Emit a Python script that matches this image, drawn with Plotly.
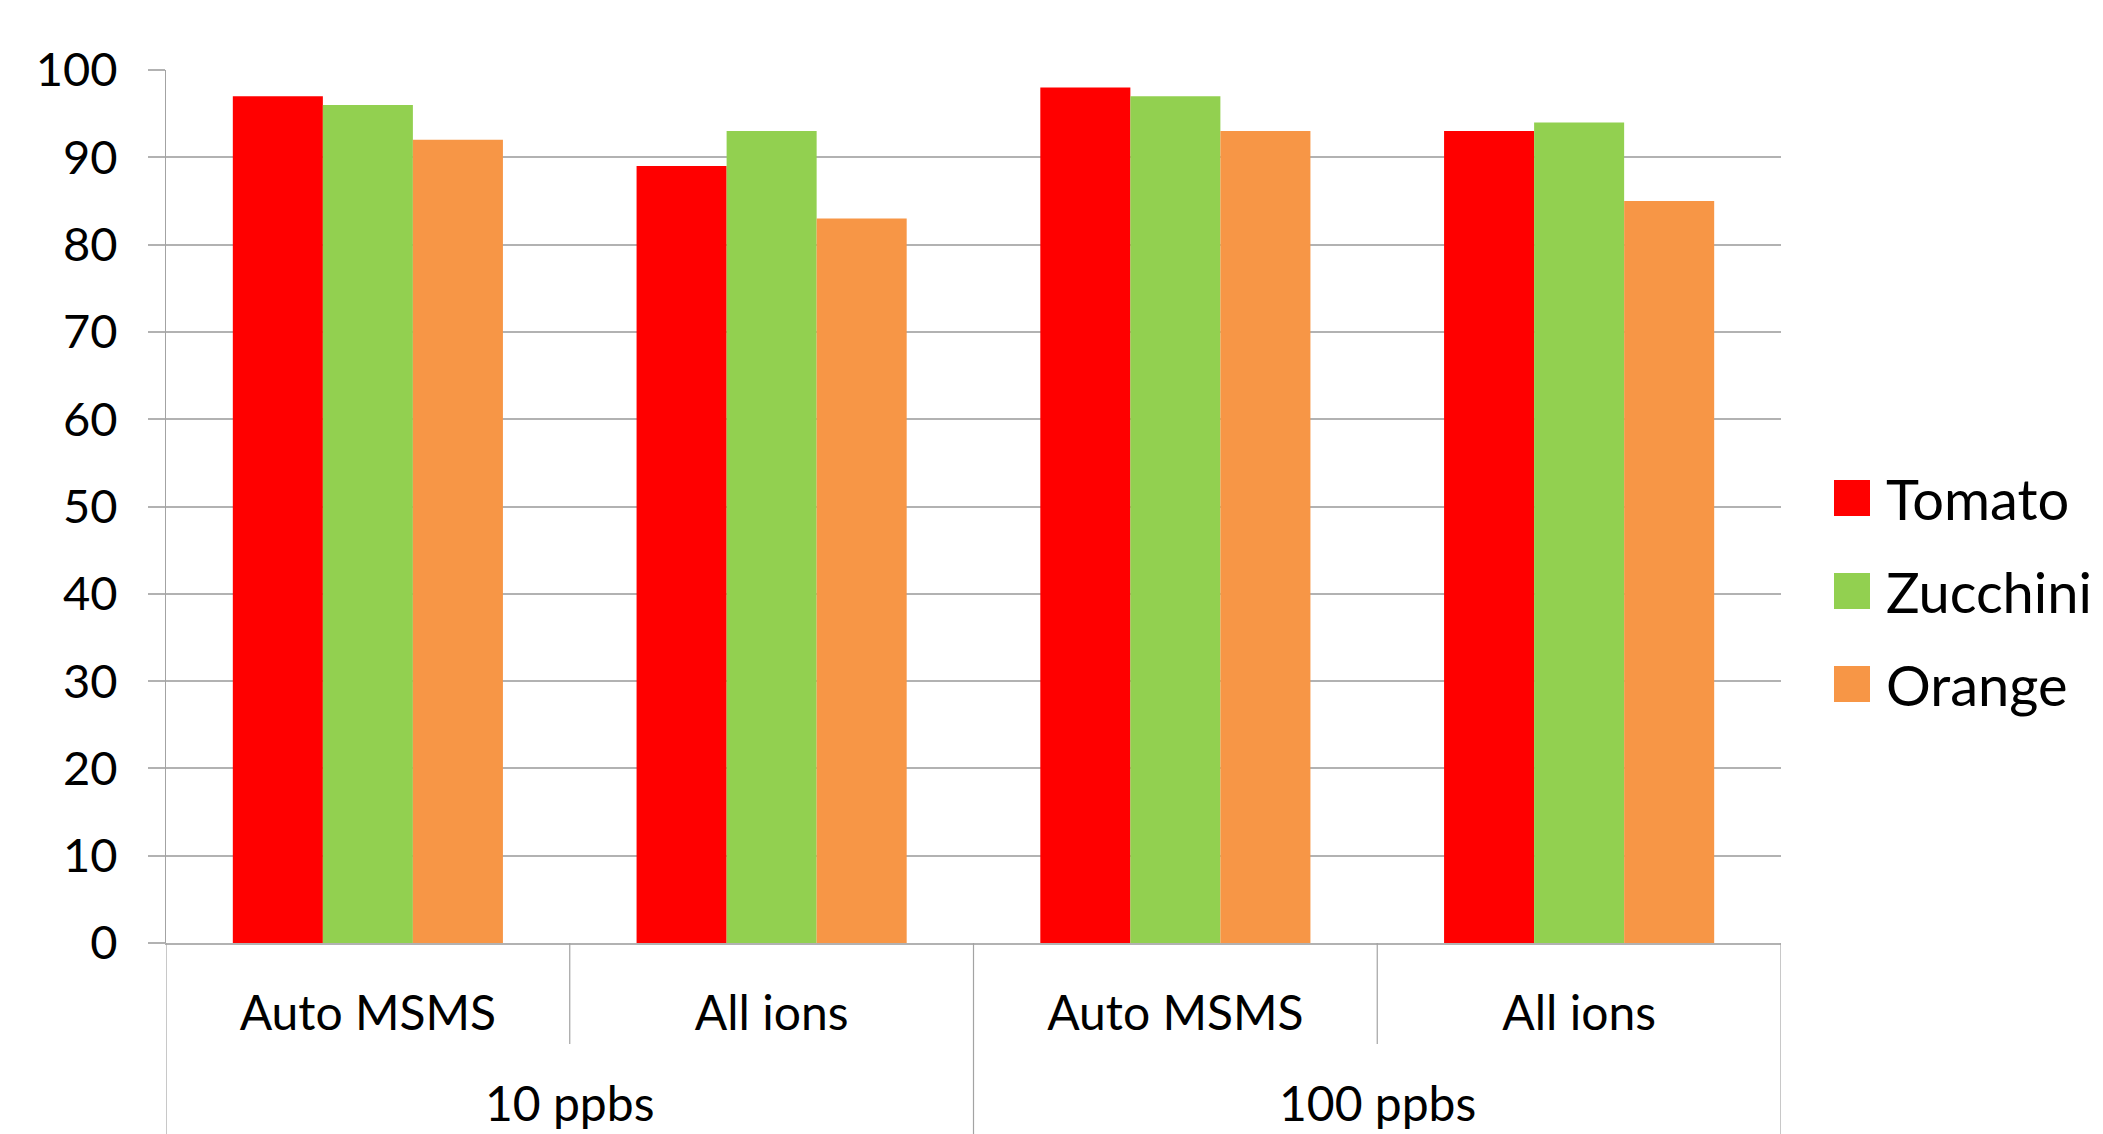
import plotly.graph_objects as go

# ---- data ----
subcategories = ["Auto MSMS", "All ions", "Auto MSMS", "All ions"]
groups = ["10 ppbs", "100 ppbs"]
series_names = ["Tomato", "Zucchini", "Orange"]
tomato = [97, 89, 98, 93]
zucchini = [96, 93, 97, 94]
orange = [92, 83, 93, 85]
y_ticks = [0, 10, 20, 30, 40, 50, 60, 70, 80, 90, 100]

colors = ["#FF0000", "#92D050", "#F79646"]
values = [tomato, zucchini, orange]

# the page body adds an 8px offset; size the figure so it fills the window exactly
OFF = 8
W, H = 2103 - OFF, 1134 - OFF
ML, MT = 166 - OFF, 70 - OFF
PW, PH = 1615, 873
MR, MB = W - ML - PW, H - MT - PH
FONT = "Lato, Calibri, 'Open Sans', sans-serif"
GRID = "#b2b2b2"
LINE = "#a3a3a3"

xpos = list(range(len(subcategories)))

fig = go.Figure()
for name, vals, col in zip(series_names, values, colors):
    fig.add_trace(go.Bar(x=xpos, y=vals, name=name, marker=dict(color=col, line=dict(width=0)),
                         showlegend=False))

shapes = []
# inner boundaries (between subcategories inside a group)
for b in [0.5, 2.5]:
    shapes.append(dict(type="line", xref="x", yref="paper", x0=b, x1=b, y0=0, y1=-101 / PH,
                       line=dict(color=LINE, width=1.2)))
# outer boundaries (groups)
for b in [-0.5, 1.5, 3.5]:
    shapes.append(dict(type="line", xref="x", yref="paper", x0=b, x1=b, y0=0, y1=-(MB + 5) / PH,
                       line=dict(color=LINE, width=1.2)))

annotations = []
for i, g in enumerate(groups):
    annotations.append(dict(text=g, xref="x", yref="paper", x=2 * i + 0.5, y=-(MB - 1) / PH,
                            xanchor="center", yanchor="bottom", showarrow=False,
                            font=dict(family=FONT, size=48, color="black")))

# legend (drawn manually so the swatches match the reference size)
sq = 36
lx0 = (1834 - 166) / PW
lx1 = (1834 + sq - 166) / PW
tx = (1884 - 166) / PW
centers = [498, 591, 684]  # page pixel centres
for name, col, cy in zip(series_names, colors, centers):
    base = 943  # page pixel of y=0
    shapes.append(dict(type="rect", xref="paper", yref="paper", x0=lx0, x1=lx1,
                       y0=(base - (cy - sq / 2)) / PH, y1=(base - (cy + sq / 2)) / PH,
                       fillcolor=col, line=dict(width=0)))
    annotations.append(dict(text=name, xref="paper", yref="paper", x=tx, y=(base - cy) / PH,
                            xanchor="left", yanchor="middle", showarrow=False,
                            font=dict(family=FONT, size=56, color="black")))

fig.update_layout(
    width=W, height=H,
    margin=dict(l=ML, r=MR, t=MT, b=MB),
    paper_bgcolor="white", plot_bgcolor="white",
    barmode="group", bargap=0.331, bargroupgap=0,
    shapes=shapes, annotations=annotations,
    font=dict(family=FONT, color="black"),
)
fig.update_xaxes(range=[-0.5, 3.5], tickmode="array", tickvals=xpos, ticktext=subcategories,
                 ticks="", showline=True, linecolor=GRID, linewidth=2, showgrid=False,
                 zeroline=False, ticklabelstandoff=27,
                 tickfont=dict(family=FONT, size=48, color="black"))
fig.update_yaxes(range=[0, 100], tickmode="array", tickvals=y_ticks,
                 showgrid=True, gridcolor=GRID, gridwidth=1.5,
                 ticks="outside", ticklen=17, tickcolor=GRID, tickwidth=1.5,
                 showline=True, linecolor=LINE, linewidth=1.2, zeroline=False,
                 ticklabelstandoff=21,
                 tickfont=dict(family=FONT, size=47, color="black"))

fig.write_html("out.html")
